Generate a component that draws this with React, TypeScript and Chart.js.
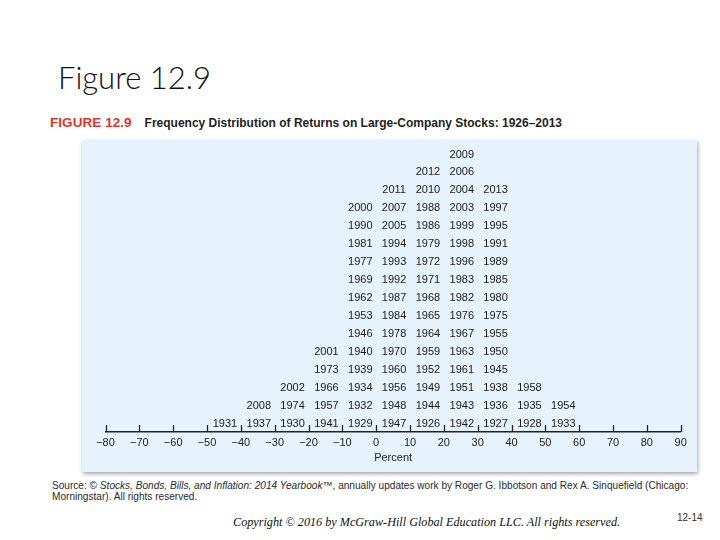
import React, { useEffect, useRef } from "react";
import { Chart, registerables } from "chart.js";

Chart.register(...registerables);

// Lower edge of each 10% return bin
const binLower = [-50, -40, -30, -20, -10, 0, 10, 20, 30, 40, 50];

// Years in each bin, listed bottom to top
const yearsM50 = [1931];
const yearsM40 = [1937, 2008];
const yearsM30 = [1930, 1974, 2002];
const yearsM20 = [1941, 1957, 1966, 1973, 2001];
const yearsM10 = [1929, 1932, 1934, 1939, 1940, 1946, 1953, 1962, 1969, 1977, 1981, 1990, 2000];
const years0 = [1947, 1948, 1956, 1960, 1970, 1978, 1984, 1987, 1992, 1993, 1994, 2005, 2007, 2011];
const years10 = [1926, 1944, 1949, 1952, 1959, 1964, 1965, 1968, 1971, 1972, 1979, 1986, 1988, 2010, 2012];
const years20 = [1942, 1943, 1951, 1961, 1963, 1967, 1976, 1982, 1983, 1996, 1998, 1999, 2003, 2004, 2006, 2009];
const years30 = [1927, 1936, 1938, 1945, 1950, 1955, 1975, 1980, 1985, 1989, 1991, 1995, 1997, 2013];
const years40 = [1928, 1935, 1958];
const years50 = [1933, 1954];

const yearColumns = [
  yearsM50, yearsM40, yearsM30, yearsM20, yearsM10, years0,
  years10, years20, years30, years40, years50,
];

const xMin = -80;
const xMax = 90;
const xStep = 10;
const axisTitle = "Percent";

const pageTitle = "Figure 12.9";
const figureTag = "FIGURE 12.9";
const figureCaption = "Frequency Distribution of Returns on Large-Company Stocks: 1926\u20132013";

const points: { x: number; y: number }[] = [];
const pointLabels: string[] = [];
yearColumns.forEach((col, i) => {
  col.forEach((yr, j) => {
    points.push({ x: binLower[i] + 5, y: j + 1 });
    pointLabels.push(String(yr));
  });
});

const yearLabelPlugin = {
  id: "yearLabels",
  afterDatasetsDraw(chart: any) {
    const ctx = chart.ctx;
    const meta = chart.getDatasetMeta(0);
    ctx.save();
    ctx.font = '11px "Liberation Sans", Arial, sans-serif';
    ctx.fillStyle = "#1a1a1a";
    ctx.textAlign = "center";
    ctx.textBaseline = "middle";
    meta.data.forEach((el: any, i: number) => {
      ctx.fillText(pointLabels[i], el.x + 1, el.y + 0.5);
    });
    const xs = chart.scales.x;
    const yBase = chart.chartArea.bottom;
    ctx.strokeStyle = "#222";
    ctx.lineWidth = 1.3;
    xs.ticks.forEach((t: any) => {
      const px = Math.round(xs.getPixelForValue(t.value)) + 0.5;
      ctx.beginPath();
      ctx.moveTo(px, yBase);
      ctx.lineTo(px, yBase - 7);
      ctx.stroke();
    });
    ctx.restore();
  },
};

function ChartPanel() {
  const ref = useRef<HTMLCanvasElement>(null);
  useEffect(() => {
    if (!ref.current) return;
    const chart = new Chart(ref.current, {
      type: "scatter",
      data: {
        datasets: [
          {
            data: points,
            pointRadius: 0,
            pointHoverRadius: 0,
            showLine: false,
          },
        ],
      },
      options: {
        responsive: false,
        animation: false,
        events: [],
        layout: { padding: { left: 23.5, right: 16.3, top: 5, bottom: 7 } },
        plugins: { legend: { display: false }, tooltip: { enabled: false } },
        scales: {
          x: {
            type: "linear",
            min: xMin,
            max: xMax,
            afterFit: (scale: any) => {
              scale.height = 33;
            },
            border: { display: true, color: "#222", width: 1.5 },
            grid: { display: false, drawTicks: false },
            ticks: {
              stepSize: xStep,
              autoSkip: false,
              maxRotation: 0,
              padding: 4,
              color: "#222",
              font: { family: '"Liberation Sans", Arial, sans-serif', size: 11 },
              callback: (v: any) => (v < 0 ? "\u2212" + Math.abs(v) : String(v)),
            },
            title: {
              display: true,
              text: axisTitle,
              color: "#222",
              padding: 0,
              font: { family: '"Liberation Sans", Arial, sans-serif', size: 11 },
            },
          },
          y: { display: false, min: 0.5, max: 16.5 },
        },
      },
      plugins: [yearLabelPlugin],
    } as any);
    return () => chart.destroy();
  }, []);
  return <canvas ref={ref} width={615} height={332} style={{ display: "block" }} />;
}

export default function App() {
  const sans = '"Liberation Sans", Arial, sans-serif';
  return (
    <div style={{ position: "absolute", left: 0, top: 0, width: 720, height: 540, background: "#fff", overflow: "hidden" }}>
      <div style={{ position: "absolute", left: 58, top: 62, fontFamily: "Lato, sans-serif", fontWeight: 300, fontSize: 31, lineHeight: "31px", color: "#111", whiteSpace: "nowrap" }}>
        {pageTitle}
      </div>
      <div style={{ position: "absolute", left: 50, top: 116, fontFamily: sans, fontSize: 12, lineHeight: "14px", fontWeight: 700, whiteSpace: "nowrap" }}>
        <span style={{ color: "#e0352b", fontSize: 13.6 }}>{figureTag}</span>
        <span style={{ color: "#231f20", marginLeft: 13, fontSize: 12 }}>{figureCaption}</span>
      </div>
      <div style={{ position: "absolute", left: 82, top: 140, width: 615, height: 332, background: "#e7f3fc", boxShadow: "1px 2px 4px rgba(0,0,0,0.35)" }}>
        <ChartPanel />
      </div>
      <div style={{ position: "absolute", left: 52, top: 480, fontFamily: sans, fontSize: 10.1, lineHeight: "11px", color: "#2a2a2a", whiteSpace: "nowrap" }}>
        Source: © <i>Stocks, Bonds, Bills, and Inflation: 2014 Yearbook</i>™, annually updates work by Roger G. Ibbotson and Rex A. Sinquefield (Chicago:
        <br />
        Morningstar). All rights reserved.
      </div>
      <div style={{ position: "absolute", left: 233, top: 514, fontFamily: '"Liberation Serif", "Times New Roman", serif', fontStyle: "italic", fontSize: 12.2, lineHeight: "16px", color: "#111", whiteSpace: "nowrap" }}>
        Copyright © 2016 by McGraw-Hill Global Education LLC. All rights reserved.
      </div>
      <div style={{ position: "absolute", left: 677, top: 511, fontFamily: sans, fontSize: 10, lineHeight: "14px", color: "#333" }}>
        12-14
      </div>
    </div>
  );
}
